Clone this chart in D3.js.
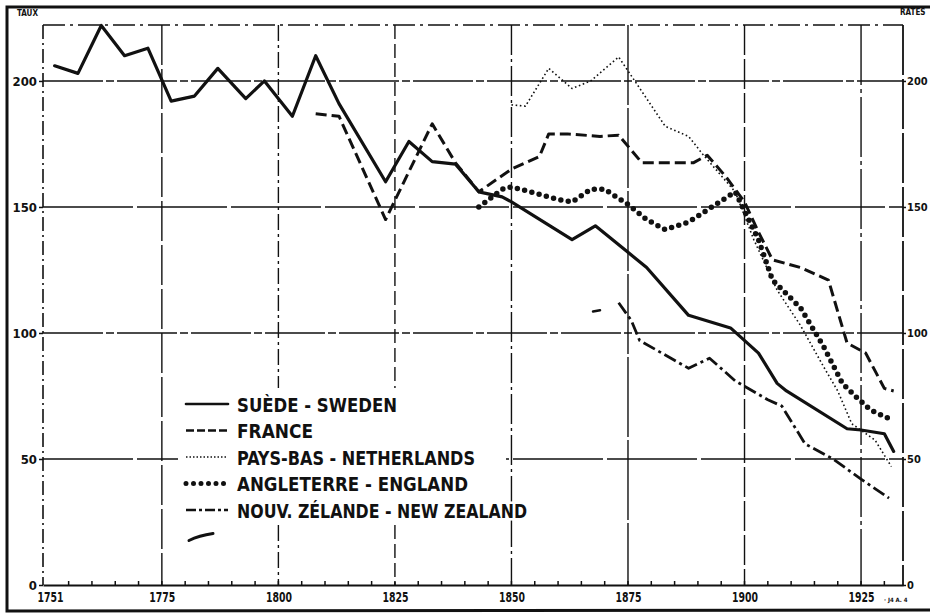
<!DOCTYPE html>
<html>
<head>
<meta charset="utf-8">
<script src="https://cdn.jsdelivr.net/npm/d3@7"></script>
<style>
  html, body { margin: 0; padding: 0; background: #fff; }
  svg { display: block; }
  text { font-family: "DejaVu Sans Condensed", "DejaVu Sans", sans-serif; font-weight: bold; fill: #111; }
</style>
</head>
<body>
<svg id="chart" width="930" height="614"></svg>
<script>
// ---------------- DATA ----------------
const swedenYears  = [1752,1757,1762,1767,1772,1777,1782,1787,1793,1797,1803,1808,1813,1823,1828,1833,1838,1843,1848,1850,1863,1868,1875,1879,1888,1897,1903,1907,1909,1922,1925,1930,1932];
const swedenValues = [206,203,222,210,213,192,194,205,193,200,186,210,191,160,176,168,167,156,154,152,137,142.5,132,126,107,102,92,80,77,62,61.5,60,53];

const franceYears  = [1808,1813,1823,1833,1838,1843,1850,1856,1858,1862,1869,1873,1878,1883,1889,1892,1896,1900,1903,1906,1912,1918,1922,1926,1930,1932];
const franceValues = [187,186,145,183,167.5,156,165,170,179,179,178,178.5,167.5,167.5,167.5,170.5,162,152,140,129,126,121,96,92,78,77];

const netherlandsYears  = [1850,1853,1858,1863,1867,1873,1883,1888,1891,1898,1902,1907,1912,1917,1920,1923,1928,1931.5];
const netherlandsValues = [190.5,190,205,197,200,209.5,182,178,171,156,137,117,103,86.5,77,64,57.5,47];

const englandYears  = [1843,1848,1850,1855,1860,1863,1867,1870,1875,1879,1883,1888,1893,1898,1903,1906,1912,1917,1921,1924,1927,1931];
const englandValues = [150,157,158,155.5,153,152,157,157,151,145,141,144,150,156,137,121,110,94.5,80,74.5,69.5,66];

const nzYears  = [1873,1875.7,1877.5,1888,1892.5,1898,1905,1908,1913,1919,1925,1931];
const nzValues = [112,105,97,86,90,81,73.5,71,56,50,42,34.5];
const nzEarlyYears  = [1867.5,1869];
const nzEarlyValues = [108.5,109];

const xTickValues = [1751,1775,1800,1825,1850,1875,1900,1925];
const xTickLabels = ["1751","1775","1800","1825","1850","1875","1900","1925"];
const yTickValues = [0,50,100,150,200];
const yTickLabels = ["0","50","100","150","200"];
const minorYears  = d3.range(1755, 1934, 5);

const legendLabels = ["SUÈDE - SWEDEN","FRANCE","PAYS-BAS - NETHERLANDS","ANGLETERRE - ENGLAND","NOUV. ZÉLANDE - NEW ZEALAND"];
const legendTextWidths = [160, 76, 238, 231, 290];

// ---------------- LAYOUT ----------------
const svg = d3.select("#chart");
const plot = {left: 43, right: 903, top: 25, bottom: 585};
const x = d3.scaleLinear().domain([1749.5, 1934]).range([plot.left, plot.right]);
const y = d3.scaleLinear().domain([0, 222.2]).range([plot.bottom, plot.top]);
const ink = "#111";
const fontStack = '"DejaVu Sans Condensed", sans-serif';

svg.append("rect").attr("width", 930).attr("height", 614).attr("fill", "#fff");

// outer frame
svg.append("path")
  .attr("d", "M930,7 L7,7 L7,611 L930,610")
  .attr("fill", "none").attr("stroke", ink).attr("stroke-width", 3);

// horizontal grid
svg.append("g").selectAll("line").data(yTickValues.filter(v => v > 0)).join("line")
  .attr("x1", plot.left).attr("x2", plot.right)
  .attr("y1", d => y(d)).attr("y2", d => y(d))
  .attr("stroke", ink).attr("stroke-width", 1.5)
  .attr("stroke-dasharray", (d, i) => i % 2 ? "60,3,8,3" : "90,4");

// top line of plot area
svg.append("line")
  .attr("x1", plot.left).attr("x2", plot.right)
  .attr("y1", y(222.2)).attr("y2", y(222.2))
  .attr("stroke", ink).attr("stroke-width", 1.5).attr("stroke-dasharray", "22,5,3,5");

// legend background (blanks grid behind legend, but not the 1850 line)
svg.append("rect").attr("x", 178).attr("y", 388).attr("width", 328).attr("height", 137).attr("fill", "#fff");

// vertical grid
const vStyles = ["40,4", "16,4,3,4", "14,5", "30,4,3,4", "80,3", "30,4", "60,4,4,4"];
svg.append("g").selectAll("line").data(xTickValues.slice(1)).join("line")
  .attr("x1", d => x(d)).attr("x2", d => x(d))
  .attr("y1", plot.top).attr("y2", plot.bottom)
  .attr("stroke", ink).attr("stroke-width", 1.4)
  .attr("stroke-dasharray", (d, i) => vStyles[i])
  .attr("opacity", d => (d === 1800 || d === 1825) ? 0 : 1);
// 1800 / 1825 lines broken around the legend
[1800, 1825].forEach((yr, k) => {
  [[plot.top, 388], [525, plot.bottom]].forEach(seg => {
    svg.append("line").attr("x1", x(yr)).attr("x2", x(yr))
      .attr("y1", seg[0]).attr("y2", seg[1])
      .attr("stroke", ink).attr("stroke-width", 1.4)
      .attr("stroke-dasharray", vStyles[k + 1]);
  });
});

// left and right axes lines
svg.append("line").attr("x1", plot.left).attr("x2", plot.left)
  .attr("y1", plot.top).attr("y2", plot.bottom)
  .attr("stroke", ink).attr("stroke-width", 1.6).attr("stroke-dasharray", "14,4,2,4");
svg.append("line").attr("x1", plot.right).attr("x2", plot.right)
  .attr("y1", plot.top).attr("y2", plot.bottom)
  .attr("stroke", ink).attr("stroke-width", 1.8).attr("stroke-dasharray", "50,4");

// bottom axis with D3 axis
const xAxis = d3.axisBottom(x).tickValues(xTickValues)
  .tickFormat((d, i) => xTickLabels[i]).tickSize(0).tickPadding(7);
const gx = svg.append("g").attr("transform", `translate(0,${plot.bottom})`).call(xAxis);
gx.select(".domain").attr("stroke", ink).attr("stroke-width", 2);
gx.selectAll("text").attr("font-size", 14).attr("fill", ink)
  .style("font-family", fontStack).style("font-weight", "bold")
  .attr("textLength", 26).attr("lengthAdjust", "spacingAndGlyphs");
// minor ticks
svg.append("g").selectAll("line").data(minorYears).join("line")
  .attr("x1", d => x(d)).attr("x2", d => x(d))
  .attr("y1", plot.bottom).attr("y2", plot.bottom - 4)
  .attr("stroke", ink).attr("stroke-width", 1.5);

// left axis labels
const yAxisL = d3.axisLeft(y).tickValues(yTickValues)
  .tickFormat((d, i) => yTickLabels[i]).tickSize(4).tickPadding(2);
const gyl = svg.append("g").attr("transform", `translate(${plot.left},0)`).call(yAxisL);
gyl.select(".domain").remove();
gyl.selectAll("line").attr("stroke", ink).attr("stroke-width", 1.5);
gyl.selectAll("text").attr("font-size", 13).attr("fill", ink)
  .style("font-family", fontStack).style("font-weight", "bold");

// right axis labels
const yAxisR = d3.axisRight(y).tickValues(yTickValues)
  .tickFormat((d, i) => yTickLabels[i]).tickSize(3).tickPadding(1);
const gyr = svg.append("g").attr("transform", `translate(${plot.right},0)`).call(yAxisR);
gyr.select(".domain").remove();
gyr.selectAll("line").attr("stroke", ink).attr("stroke-width", 1.5);
gyr.selectAll("text").attr("font-size", 11).attr("fill", ink)
  .style("font-family", fontStack).style("font-weight", "bold");

// corner captions
svg.append("text").attr("x", 17).attr("y", 16).attr("font-size", 8).text("TAUX");
svg.append("text").attr("x", 900).attr("y", 15).attr("font-size", 8).text("RATES");
svg.append("text").attr("x", 884).attr("y", 602).attr("font-size", 6).attr("fill", "#444").text("· J4 A. 4");

// ---------------- SERIES ----------------
const line = d3.line().x(d => x(d[0])).y(d => y(d[1]));
const zipS = (ys, vs) => ys.map((yr, i) => [yr, vs[i]]);

const styles = [
  {years: swedenYears, values: swedenValues, width: 3.2, dash: null, cap: "round"},
  {years: franceYears, values: franceValues, width: 3, dash: "11,5", cap: "butt"},
  {years: netherlandsYears, values: netherlandsValues, width: 1.6, dash: "1.6,2.6", cap: "butt"},
  {years: englandYears, values: englandValues, width: 5.5, dash: "0,7.5", cap: "round"},
  {years: nzYears, values: nzValues, width: 2.8, dash: "13,4,3,4", cap: "butt"}
];

styles.forEach(s => {
  svg.append("path").datum(zipS(s.years, s.values))
    .attr("d", line).attr("fill", "none").attr("stroke", ink)
    .attr("stroke-width", s.width).attr("stroke-linejoin", "round")
    .attr("stroke-linecap", s.cap)
    .attr("stroke-dasharray", s.dash);
});
svg.append("path").datum(zipS(nzEarlyYears, nzEarlyValues))
  .attr("d", line).attr("fill", "none").attr("stroke", ink)
  .attr("stroke-width", 2.5).attr("stroke-linecap", "round");

// ---------------- LEGEND ----------------
const legend = svg.append("g").attr("transform", "translate(185,404)");
const rowH = 26.5;
legendLabels.forEach((lab, i) => {
  const s = styles[i];
  const g = legend.append("g").attr("transform", `translate(0,${i * rowH})`);
  g.append("line").attr("x1", 1).attr("x2", 43).attr("y1", 0).attr("y2", 0)
    .attr("stroke", ink)
    .attr("stroke-width", i === 3 ? 5 : (i === 2 ? 1.5 : 2.6))
    .attr("stroke-linecap", s.cap)
    .attr("stroke-dasharray", i === 1 ? "8,3" : i === 2 ? "1.5,2" : i === 3 ? "0,7.5" : i === 4 ? "10,3,3,3" : null);
  g.append("text").attr("x", 52).attr("y", 7.5)
    .attr("font-size", 20)
    .attr("stroke", "#fff").attr("stroke-width", 5).attr("paint-order", "stroke")
    .attr("textLength", legendTextWidths[i]).attr("lengthAdjust", "spacingAndGlyphs")
    .text(lab);
});
// unlabeled legend stroke
legend.append("path")
  .attr("d", `M4,${5 * rowH + 4} Q14,${5 * rowH - 1} 28,${5 * rowH - 3}`)
  .attr("fill", "none").attr("stroke", ink).attr("stroke-width", 3).attr("stroke-linecap", "round");
</script>
</body>
</html>
